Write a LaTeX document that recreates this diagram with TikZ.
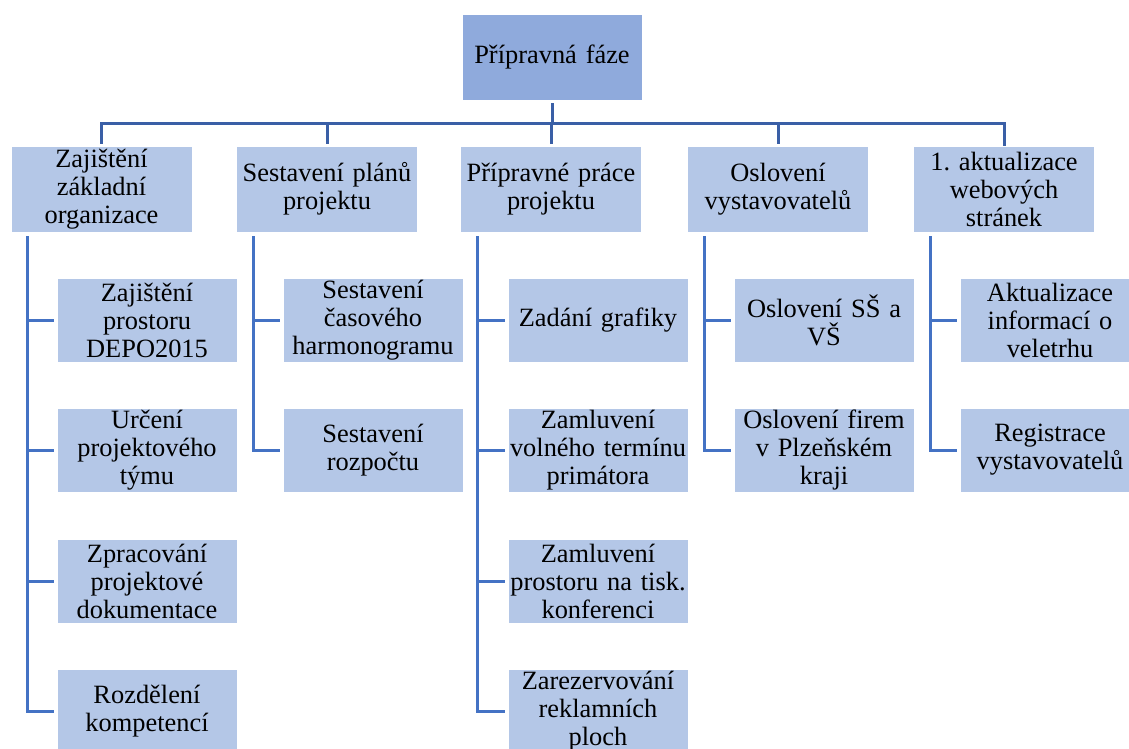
\documentclass[tikz,border=0pt]{standalone}
\usepackage{fontspec}
\setmainfont{Liberation Serif}
\frenchspacing
\definecolor{rootfill}{HTML}{8FAADC}
\definecolor{boxfill}{HTML}{B4C7E7}
\definecolor{busline}{HTML}{3A5FA6}
\definecolor{subline}{HTML}{4472C4}
\tikzset{
  basebox/.style={rectangle, draw=white, line width=0.8pt, inner sep=0pt, align=center,
    text width=180pt, font=\fontsize{26.4}{28}\selectfont\frenchspacing},
  rootbox/.style={basebox, fill=rootfill, minimum width=180pt, minimum height=86pt},
  lvlbox/.style={basebox, fill=boxfill, minimum width=181pt, minimum height=86pt},
  subbox/.style={basebox, fill=boxfill, minimum width=180pt, minimum height=84pt},
  conn/.style={draw=busline, line width=3pt},
  subconn/.style={draw=subline, line width=3pt},
}
\begin{document}
\begin{tikzpicture}[x=1pt,y=-1pt]
\useasboundingbox (0,0) rectangle (1129,749);
% root
\node[rootbox] (root) at (552,57) {Přípravná fáze};
% level 1
\node[lvlbox] (c1) at (101.5,189) {Zajištění\\základní\\organizace};
\node[lvlbox] (c2) at (327,189) {Sestavení plánů\\projektu};
\node[lvlbox] (c3) at (551,189) {Přípravné práce\\projektu};
\node[lvlbox] (c4) at (778,189) {Oslovení\\vystavovatelů};
\node[lvlbox] (c5) at (1004,189) {1. aktualizace\\webových\\stránek};
% level 2
\node[subbox] (s11) at (147,320) {Zajištění\\prostoru\\DEPO2015};
\node[subbox] (s12) at (147,450) {Určení\\projektového\\týmu};
\node[subbox] (s13) at (147,581) {Zpracování\\projektové\\dokumentace};
\node[subbox] (s14) at (147,711) {Rozdělení\\kompetencí};
\node[subbox] (s21) at (373,320) {Sestavení\\časového\\harmonogramu};
\node[subbox] (s22) at (373,450) {Sestavení\\rozpočtu};
\node[subbox] (s31) at (598,320) {Zadání grafiky};
\node[subbox] (s32) at (598,450) {Zamluvení\\volného termínu\\primátora};
\node[subbox] (s33) at (598,581) {Zamluvení\\prostoru na tisk.\\konferenci};
\node[subbox] (s34) at (598,711) {Zarezervování\\reklamních\\ploch};
\node[subbox] (s41) at (824,320) {Oslovení SŠ a\\VŠ};
\node[subbox] (s42) at (824,450) {Oslovení firem\\v Plzeňském\\kraji};
\node[subbox] (s51) at (1050,320) {Aktualizace\\informací o\\veletrhu};
\node[subbox] (s52) at (1050,450) {Registrace\\vystavovatelů};
% bus
\coordinate (bus) at (0,124);
\draw[conn, shorten <=3pt] (root.south) -- (root.south |- bus);
\draw[conn, shorten <=2pt] (c1.north) -- (c1.north |- bus) -- (c5.north |- bus) -- (c5.north);
\foreach \c in {c2,c3,c4} {
  \draw[conn, shorten <=2pt] (\c.north) -- (\c.north |- bus);
}
% vertical feeders
\coordinate (v1) at ([xshift=17pt]c1.south west);
\coordinate (v2) at ([xshift=17pt]c2.south west);
\coordinate (v3) at ([xshift=17pt]c3.south west);
\coordinate (v4) at ([xshift=17pt]c4.south west);
\coordinate (v5) at ([xshift=17pt]c5.south west);
\draw[subconn, shorten <=4pt] (v1) -- (v1 |- s14.west);
\draw[subconn, shorten <=4pt] (v2) -- (v2 |- s22.west);
\draw[subconn, shorten <=4pt] (v3) -- (v3 |- s34.west);
\draw[subconn, shorten <=4pt] (v4) -- (v4 |- s42.west);
\draw[subconn, shorten <=4pt] (v5) -- (v5 |- s52.west);
\foreach \s/\v in {s11/v1,s12/v1,s13/v1,s14/v1,s21/v2,s22/v2,s31/v3,s32/v3,s33/v3,s34/v3,s41/v4,s42/v4,s51/v5,s52/v5} {
  \draw[subconn, shorten <=3pt, shorten >=-1.5pt] (\s.west) -- (\s.west -| \v);
}
\end{tikzpicture}
\end{document}
